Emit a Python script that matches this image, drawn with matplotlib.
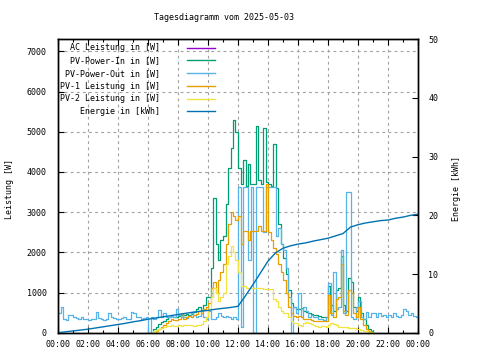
import numpy as np
import matplotlib
matplotlib.use("Agg")
import matplotlib.pyplot as plt
from matplotlib.ticker import MultipleLocator

title = "Tagesdiagramm vom 2025-05-03"
hour_ticks = [0, 2, 4, 6, 8, 10, 12, 14, 16, 18, 20, 22, 24]
hour_labels = ["00:00", "02:00", "04:00", "06:00", "08:00", "10:00", "12:00",
               "14:00", "16:00", "18:00", "20:00", "22:00", "00:00"]

# PV series: 10-minute samples from 06:00 to 21:00
pv_start_h = 6.0
pv_in_w = [
    0, 0, 80, 150, 220, 260,
    300, 330, 380, 410, 400, 390,
    420, 430, 450, 470, 440, 460,
    520, 600, 650, 560, 700, 900,
    900, 1600, 3350, 2200, 1800, 2300,
    2400, 3200, 4100, 4600, 5300, 5000,
    4100, 3700, 4300, 3650, 4200, 3700,
    3700, 5150, 3800, 3700, 5100, 3750,
    3700, 3650, 4700, 3600, 2700, 2200,
    1850, 1450, 1050, 750, 650, 600,
    600, 620, 550, 520, 480, 470,
    450, 430, 420, 400, 380, 400,
    1150, 700, 550, 1050, 1100, 1900,
    700, 550, 1350, 1250, 650, 550,
    900, 500, 350, 200, 100, 40,
    0]
pv1_w = [
    0, 0, 0, 30, 100, 150,
    200, 250, 300, 330, 320, 310,
    330, 480, 350, 380, 420, 380,
    450, 460, 550, 500, 580, 650,
    750, 1100, 1250, 1000, 1300, 1500,
    1700, 2200, 2700, 3000, 2900, 2800,
    2900, 2200, 2530, 2530, 2300, 2530,
    2530, 2530, 2650, 2530, 2530, 3700,
    2500, 2300, 2100, 1950, 1700, 1500,
    1300, 980, 650, 480, 420, 400,
    420, 400, 350, 330, 330, 320,
    300, 290, 280, 300, 290, 300,
    950, 500, 400, 850, 900, 1700,
    550, 450, 1060, 1000, 500, 400,
    650, 350, 200, 100, 50, 20,
    0]
pv2_w = [
    0, 0, 30, 60, 100, 120,
    150, 160, 170, 180, 170, 160,
    180, 170, 190, 200, 180, 200,
    170, 180, 200, 220, 300, 400,
    600, 900, 1100, 1000, 800, 900,
    1000, 1700, 1900, 2150, 2000, 1800,
    1500, 1150, 1150, 1120, 1120, 1120,
    1120, 1100, 1100, 1100, 1090, 1080,
    1080, 1080, 850, 800, 650, 550,
    500, 480, 380, 300, 250, 230,
    200, 160, 230, 270, 230, 220,
    200, 160, 150, 160, 170, 150,
    200, 230, 220, 200, 150, 150,
    150, 130, 120, 110, 110, 100,
    80, 60, 50, 40, 20, 10,
    0]

# PV-Power-Out: 10-minute samples for the whole day
pv_out_w = [
    480, 650, 330, 320, 440, 430,
    380, 360, 350, 390, 340, 330,
    320, 330, 350, 520, 360, 330,
    320, 330, 480, 400, 360, 340,
    330, 360, 400, 350, 350, 520,
    480, 380, 380, 350, 370, 400,
    0, 380, 350, 400, 560, 380,
    500, 400, 380, 420, 390, 580,
    450, 400, 380, 370, 420, 480,
    450, 400, 420, 500, 380, 350,
    550, 350, 330, 400, 480, 420,
    380, 420, 400, 350, 380, 330,
    3630, 150, 3630, 3630, 1800, 3630,
    0, 3630, 3630, 3630, 2500, 3630,
    3630, 3630, 3630, 2400, 2600, 2200,
    2050, 1600, 900, 0, 650, 480,
    980, 400, 650, 550, 400, 450,
    380, 400, 330, 350, 320, 380,
    1230, 450, 1500, 600, 650, 2050,
    500, 3500, 3500, 400, 350, 650,
    800, 400, 350, 520, 380, 500,
    480, 400, 500, 420, 450, 400,
    430, 400, 480, 420, 400, 450,
    600, 550, 450, 500, 420, 400,
    400]
ac_w = pv_out_w  # AC power is hidden beneath PV-Power-Out

# Energy (kWh), 30-minute samples
energy_kwh = [
    0.0, 0.15, 0.3, 0.45, 0.6, 0.8, 1.0, 1.2, 1.4, 1.6, 1.85, 2.05,
    2.3, 2.5, 2.7, 2.9, 3.1, 3.3, 3.5, 3.65, 3.8, 4.0, 4.15, 4.3,
    4.5, 6.3, 8.2, 10.2, 12.2, 13.6, 14.4, 14.8, 15.1, 15.3, 15.6, 15.85,
    16.1, 16.5, 16.9, 18.0, 18.4, 18.7, 18.9, 19.1, 19.2, 19.5, 19.7, 20.0,
    20.2]

t_pv = pv_start_h + np.arange(len(pv_in_w)) / 6.0
t_out = np.arange(len(pv_out_w)) / 6.0
t_en = np.arange(len(energy_kwh)) / 2.0

FONT = "DejaVu Sans Mono"
FS = 6
plt.rcParams['font.family'] = FONT
plt.rcParams['font.size'] = FS

fig = plt.figure(figsize=(4.8, 3.6), dpi=100)
ax = fig.add_axes([58/480, 1-332.7/360, 360/480, 293.4/360])
ax2 = ax.twinx()

c_ac = "#9400d3"
c_in = "#009e73"
c_out = "#56b4e9"
c_pv1 = "#e69f00"
c_pv2 = "#f0e442"
c_en = "#0072b2"
kw = dict(lw=0.9, drawstyle='steps-post', snap=True)

h1, = ax.plot(t_out, ac_w, color=c_ac, lw=0.5, drawstyle='steps-post',
              antialiased=False, snap=True, label="AC Leistung in [W]")
h2, = ax.plot(t_pv, pv_in_w, color=c_in, label="PV-Power-In in [W]", **kw)
h3, = ax.plot(t_out, pv_out_w, color=c_out, label="PV-Power-Out in [W]", **kw)
h4, = ax.plot(t_pv, pv1_w, color=c_pv1, label="PV-1 Leistung in [W]", **kw)
h5, = ax.plot(t_pv, pv2_w, color=c_pv2, label="PV-2 Leistung in [W]", **kw)
h6, = ax2.plot(t_en, energy_kwh, color=c_en, lw=1.0, label="Energie in [kWh]")

ax.set_xlim(0, 24)
ax.set_ylim(0, 7300)
ax2.set_ylim(0, 50)

ax.set_xticks(hour_ticks)
ax.set_xticklabels(hour_labels)
ax.xaxis.set_minor_locator(MultipleLocator(1))
ax.set_yticks([0, 1000, 2000, 3000, 4000, 5000, 6000, 7000])
ax2.set_yticks([0, 10, 20, 30, 40, 50])

ax.tick_params(axis='x', which='major', direction='in', length=4, width=0.8, top=True, pad=5, labelsize=FS)
ax.tick_params(axis='x', which='minor', direction='in', length=2.5, width=0.8, top=True)
ax.tick_params(axis='y', which='major', direction='in', length=4, width=0.8, pad=8, labelsize=FS)
ax2.tick_params(axis='y', which='major', direction='in', length=4, width=0.8, pad=7.5, labelsize=FS)

ax.grid(True, which='major', color='#a0a0a0', linestyle=(0, (2.5, 3)), linewidth=0.8)
ax.set_axisbelow(True)
for sp in list(ax.spines.values()) + list(ax2.spines.values()):
    sp.set_linewidth(1.0)

ax.set_ylabel("Leistung [W]", fontsize=FS)
ax.yaxis.set_label_coords(-44/360, 0.49, transform=ax.transAxes)
ax2.set_ylabel("Energie [kWh]", fontsize=FS)
ax2.yaxis.set_label_coords(1 + 34/360, 0.49, transform=ax2.transAxes)

fig.text(223.5/480, 1 - 18/360, title, ha='center', va='center', fontsize=FS)

leg = ax2.legend(handles=[h1, h2, h3, h4, h5, h6], loc='upper right',
                 bbox_to_anchor=((217 - 58 + 2) / 360, 1.0), frameon=False,
                 markerfirst=False, fontsize=FS, handlelength=3.4,
                 handletextpad=3.2, labelspacing=0.45, borderaxespad=0.2,
                 borderpad=0.3)
for lh in leg.get_lines():
    lh.set_linewidth(1.0)
    lh.set_antialiased(True)

fig.savefig("out.png", dpi=100)
